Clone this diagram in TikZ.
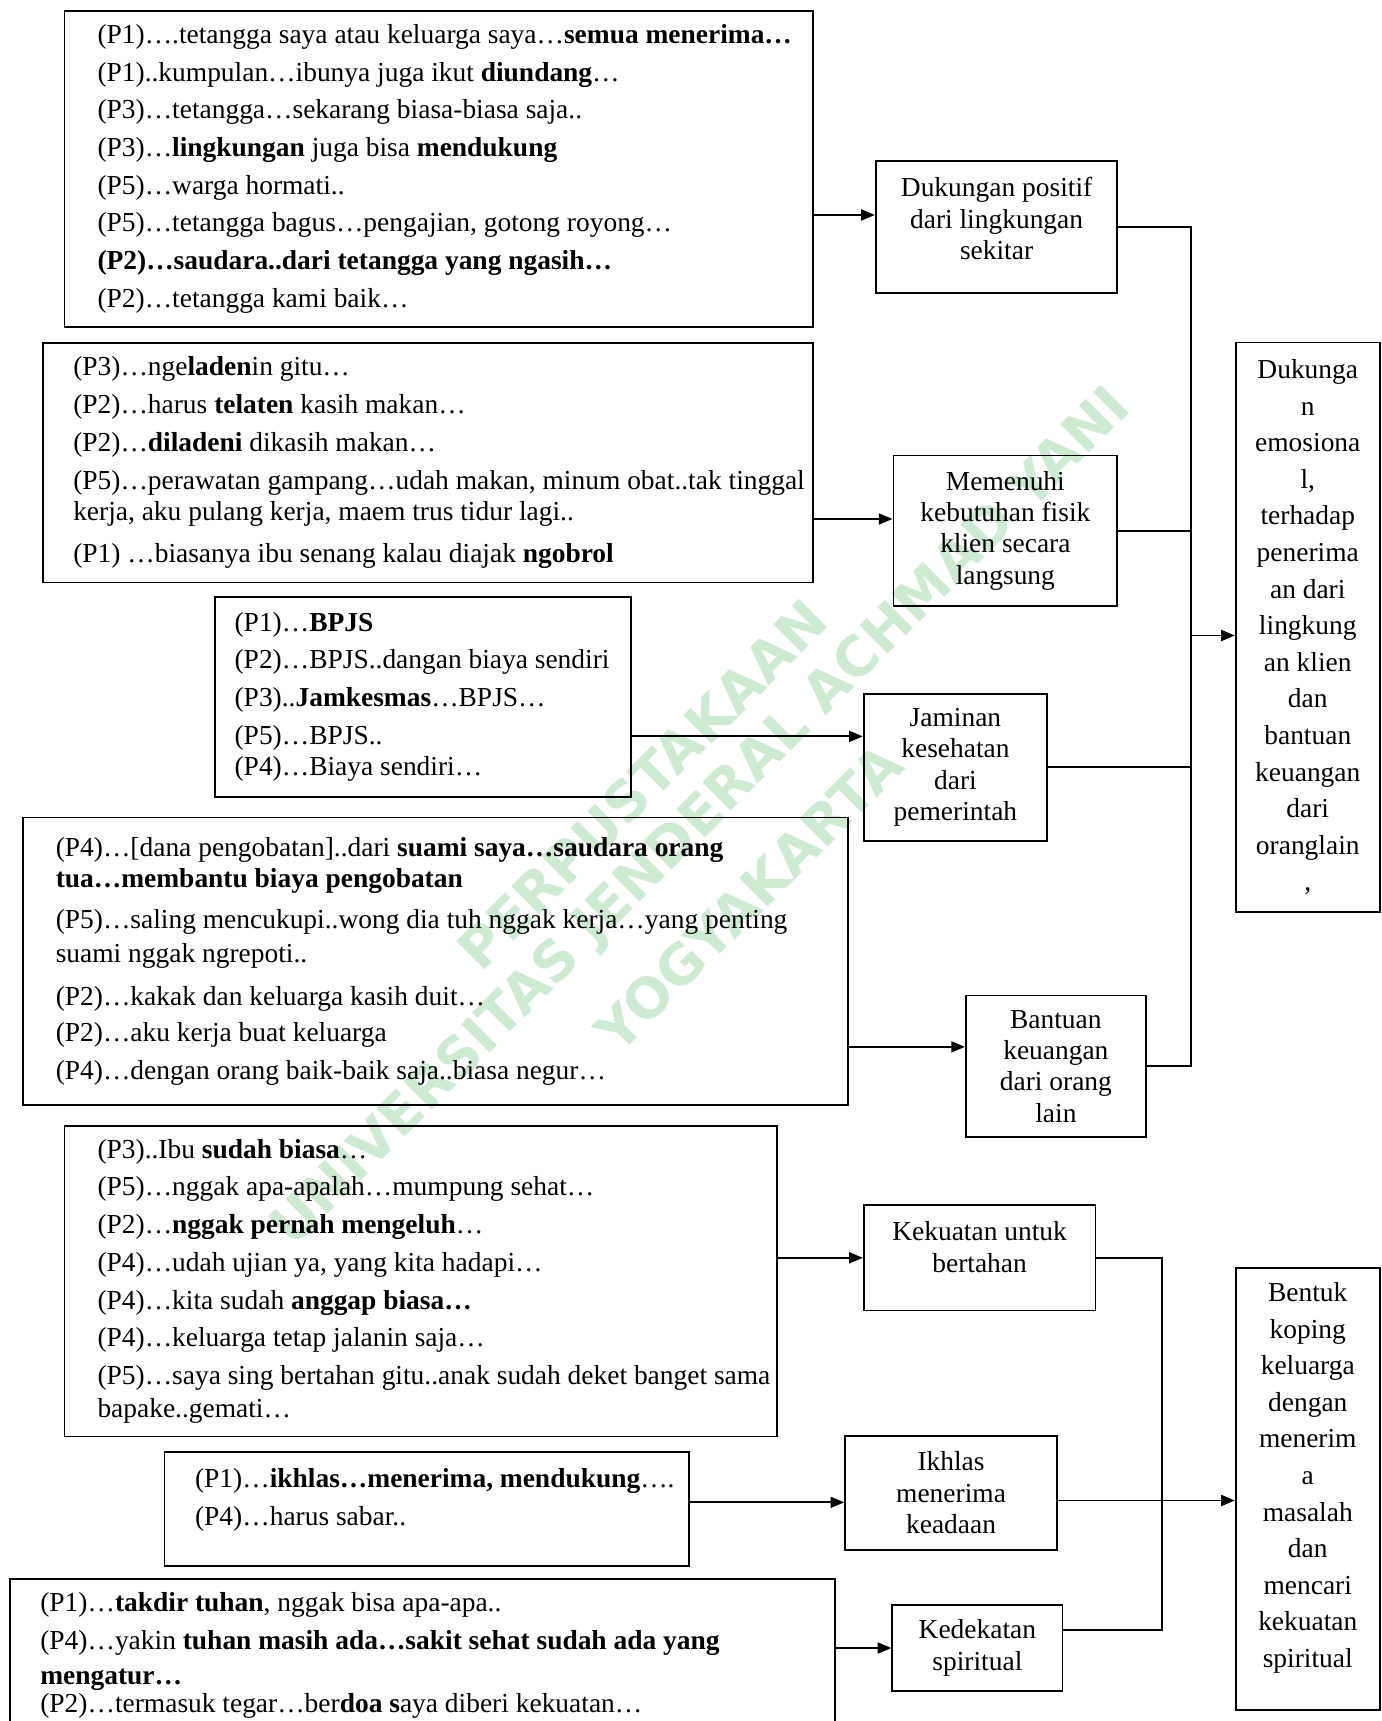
\documentclass[tikz,border=0pt]{standalone}
\usepackage{fontspec}
\setmainfont{Liberation Serif}
\newfontfamily\wmfont{DejaVu Sans}
\usetikzlibrary{arrows.meta}
\definecolor{wmgreen}{RGB}{205,235,208}
\newcommand{\qfont}{\fontsize{12}{13.6}\selectfont}
\newcommand{\cfont}{\fontsize{12}{13.7}\selectfont}
\newcommand{\tfont}{\fontsize{12}{16}\selectfont}
\newcommand{\gap}{\\[2.9pt]}

\begin{document}
\begin{tikzpicture} [x=0.48pt, y=-0.48pt, line width=0.8pt, >={Triangle[length=6pt,width=4.8pt]},
  quote/.style n args={3}{draw, anchor=north west, align=left, inner xsep=0pt, inner ysep=0pt, font=\qfont,
    minimum width=#1, minimum height=#2, text width=#1,
    execute at begin node={\leftskip=#3\rightskip=0pt plus 1fil minus 40pt\hyphenpenalty=10000
      \spaceskip=3pt plus 1pt minus 1pt\xspaceskip=3pt plus 1pt minus 1pt\relax}},
  concept/.style n args={2}{draw, align=center, inner sep=1pt, font=\cfont, minimum width=#1, minimum height=#2},
  tall/.style={font=\tfont},
  wm/.style={text=wmgreen, font=\wmfont\bfseries\fontsize{24}{28}\selectfont, rotate=45, inner sep=0pt}]
\useasboundingbox (0,0) rectangle (1259,1568);
\clip (0,0) rectangle (1259,1568);

\node[wm] (wm1) at (585,715) {PERPUSTAKAAN};
\node[wm] (wm2) at (640,746) {UNIVERSITAS JENDERAL ACHMAD YANI};
\node[wm] (wm3) at (682,818) {YOGYAKARTA};

\node[quote={327.4pt}{138.2pt}{14.4pt}] (q1) at (58,9) {(P1)….tetangga saya atau keluarga saya…\textbf{semua menerima…}\gap
(P1)..kumpulan…ibunya juga ikut \textbf{diundang}…\gap
(P3)…tetangga…sekarang biasa-biasa saja..\gap
(P3)…\textbf{lingkungan} juga bisa \textbf{mendukung}\gap
(P5)…warga hormati..\gap
(P5)…tetangga bagus…pengajian, gotong royong…\gap
\textbf{(P2)…saudara..dari tetangga yang ngasih…}\gap
(P2)…tetangga kami baik…};
\node[quote={337pt}{104.6pt}{13.4pt}] (q2) at (38,312) {(P3)…nge\textbf{laden}in gitu…\gap
(P2)…harus \textbf{telaten} kasih makan…\gap
(P2)…\textbf{diladeni} dikasih makan…\gap
(P5)…perawatan gampang…udah makan, minum obat..tak tinggal\\
kerja, aku pulang kerja, maem trus tidur lagi..\\[5.1pt]
(P1) …biasanya ibu senang kalau diajak \textbf{ngobrol}};
\node[quote={181.9pt}{87.4pt}{8.6pt}] (q3) at (195,543) {(P1)…\textbf{BPJS}\gap
(P2)…BPJS..dangan biaya sendiri\gap
(P3)..\textbf{Jamkesmas}…BPJS…\gap
(P5)…BPJS..\\
(P4)…Biaya sendiri…};
\node[quote={361pt}{125.8pt}{14.4pt}] (q4) at (20,744) {(P4)…[dana pengobatan]..dari \textbf{suami saya…saudara orang}\\
\textbf{tua…membantu biaya pengobatan}\\[4.6pt]
(P5)…saling mencukupi..wong dia tuh nggak kerja…yang penting\\[1.3pt]
suami nggak ngrepoti..\\[5.1pt]
(P2)…kakak dan keluarga kasih duit…\\[2.2pt]
(P2)…aku kerja buat keluarga\gap
(P4)…dengan orang baik-baik saja..biasa negur…};
\node[quote={311.5pt}{135.8pt}{14.4pt}] (q5) at (58,1025) {(P3)..Ibu \textbf{sudah biasa}…\gap
(P5)…nggak apa-apalah…mumpung sehat…\gap
(P2)…\textbf{nggak pernah mengeluh}…\gap
(P4)…udah ujian ya, yang kita hadapi…\gap
(P4)…kita sudah \textbf{anggap biasa…}\gap
(P4)…keluarga tetap jalanin saja…\gap
(P5)…saya sing bertahan gitu..anak sudah deket banget sama\\[0.8pt]
bapake..gemati…};
\node[quote={229.4pt}{49.9pt}{13.4pt}] (q6) at (149,1322) {(P1)…\textbf{ikhlas…menerima, mendukung}….\\[3.2pt]
(P4)…harus sabar..\\[-3pt]\mbox{}};
\node[quote={361pt}{66.7pt}{13.4pt}] (q7) at (8,1438) {(P1)…\textbf{takdir tuhan}, nggak bisa apa-apa..\gap
(P4)…yakin \textbf{tuhan masih ada…sakit sehat sudah ada yang}\\[1.8pt]
\textbf{mengatur…}\\[-1.6pt]
(P2)…termasuk tegar…ber\textbf{doa s}aya diberi kekuatan…};

\node[concept={105.6pt}{57.6pt}] (d1) at (908,207) {Dukungan positif\\dari lingkungan\\sekitar\\[-6pt]\mbox{}};
\node[concept={97.9pt}{65.8pt}] (d2) at (916,483.5) {Memenuhi\\kebutuhan fisik\\klien secara\\langsung};
\node[concept={80.2pt}{64.3pt}] (d3) at (870.5,699) {Jaminan\\kesehatan\\dari\\pemerintah};
\node[concept={78.7pt}{61.9pt}] (d4) at (962,971.5) {Bantuan\\keuangan\\dari orang\\lain};
\node[concept={62.9pt}{249.1pt}, tall] (d5) at (1191.5,571.5) {Dukunga\\n\\emosiona\\l,\\terhadap\\penerima\\an dari\\lingkung\\an klien\\dan\\bantuan\\keuangan\\dari\\oranglain\\,};
\node[concept={101.3pt}{46.1pt}] (e1) at (892.5,1146) {Kekuatan untuk\\bertahan\\[-4.1pt]\mbox{}};
\node[concept={92.6pt}{49.9pt}] (e2) at (866.5,1360) {Ikhlas\\menerima\\keadaan};
\node[concept={74.4pt}{37.9pt}] (e3) at (890.5,1501.5) {Kedekatan\\spiritual};
\node[concept={62.9pt}{193.4pt}, tall] (e4) at (1191.5,1356.5) {Bentuk\\koping\\keluarga\\dengan\\menerim\\a\\masalah\\dan\\mencari\\kekuatan\\spiritual\\[-3.8pt]\mbox{}};

\coordinate (a1) at ([yshift=-20.2pt]q1.east);
\coordinate (a2) at ([yshift=-24.5pt]q2.east);
\coordinate (a3) at ([yshift=-17.3pt]q3.east);
\coordinate (a4) at ([yshift=-37.4pt]q4.east);
\coordinate (a6) at ([yshift=2.9pt]q6.east);
\draw[->] (a1) -- (a1 -| d1.west);
\draw[->] (a2) -- (a2 -| d2.west);
\draw[->] (a3) -- (a3 -| d3.west);
\draw[->] (a4) -- (a4 -| d4.west);
\draw[->] (q5.east |- e1.west) -- (e1.west);
\draw[->] (a6) -- (a6 -| e2.west);
\draw[->] (q7.east |- e3.west) -- (e3.west);

\coordinate (b1) at (1085,0);
\coordinate (a5) at ([yshift=-3.6pt]d5.west);
\draw (d1.east) -- (d1.east -| b1) -- (d4.east -| b1) -- (d4.east);
\foreach \n in {d2,d3} \draw (\n.east) -- (\n.east -| b1);
\draw[->] (a5 -| b1) -- (a5);

\coordinate (b2) at (1059,0);
\coordinate (a8) at ([yshift=7.9pt]e3.east);
\coordinate (a9) at ([yshift=-3.4pt]e2.east);
\draw (e1.east) -- (e1.east -| b2) -- (a8 -| b2) -- (a8);
\draw[->] (a9) -- (a9 -| e4.west);
\end{tikzpicture}
\end{document}
